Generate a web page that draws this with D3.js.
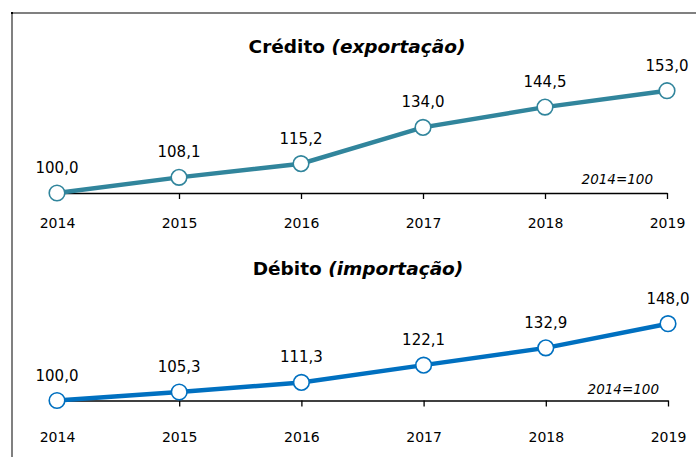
<!DOCTYPE html>
<html>
<head>
<meta charset="utf-8">
<script src="https://cdn.jsdelivr.net/npm/d3@7"></script>
<style>
  body { margin: 0; background: #fff; }
  svg { display: block; font-family: "DejaVu Sans", Verdana, sans-serif; }
</style>
</head>
<body>
<svg id="chart"></svg>
<script>
// board size
var svg_w = 696, svg_h = 457;

// data
var years = ['2014', '2015', '2016', '2017', '2018', '2019'];
var credito = [100.0, 108.1, 115.2, 134.0, 144.5, 153.0];
var debito = [100.0, 105.3, 111.3, 122.1, 132.9, 148.0];
var base_label = '2014=100';

var svg = d3.select('#chart').attr('width', svg_w).attr('height', svg_h);

// frame (left + top grey border)
svg.append('line').attr('x1', 12).attr('x2', 12).attr('y1', 12).attr('y2', svg_h)
  .attr('stroke', '#808080').attr('stroke-width', 2);
svg.append('line').attr('x1', 11).attr('x2', svg_w).attr('y1', 13).attr('y2', 13)
  .attr('stroke', '#808080').attr('stroke-width', 2);
svg.append('rect').attr('x', 11).attr('y', 12).attr('width', 2).attr('height', 2).attr('fill', '#000');

function draw_panel(cfg) {
  var g = svg.append('g');
  var x = d3.scalePoint().domain(years).range([57, cfg.x_end]);
  var y = d3.scaleLinear().domain([100, 160]).range([cfg.base, cfg.base - 60 * cfg.ppu]);

  // title
  var t = g.append('text').attr('x', cfg.title_x).attr('y', cfg.title_y)
    .attr('text-anchor', 'middle').attr('font-size', 18.5).attr('font-weight', 'bold').attr('fill', '#000');
  t.append('tspan').text(cfg.title + ' ');
  t.append('tspan').attr('font-style', 'italic').text(cfg.sub);

  // x axis
  var axis = d3.axisBottom(x).tickSize(6).tickSizeOuter(0).tickPadding(cfg.pad);
  var ag = g.append('g').attr('transform', 'translate(0,' + y(100) + ')').call(axis)
    .attr('font-size', 14).attr('font-family', '"DejaVu Sans", Verdana, sans-serif');
  ag.select('.domain').attr('stroke', '#000').attr('stroke-width', 1.3);
  ag.selectAll('.tick line').attr('stroke', '#000').attr('stroke-width', 1.3);
  ag.selectAll('.tick text').attr('fill', '#000');

  // base label
  g.append('text').attr('x', cfg.base_x).attr('y', cfg.base_y).attr('text-anchor', 'end')
    .attr('font-size', 13.5).attr('font-style', 'italic').attr('fill', '#000').text(base_label);

  // line
  var line = d3.line().x(function(d, i){ return x(years[i]); }).y(function(d){ return y(d); });
  g.append('path').datum(cfg.values).attr('d', line)
    .attr('fill', 'none').attr('stroke', cfg.color).attr('stroke-width', 4.5);

  // markers
  g.selectAll('circle.pt').data(cfg.values).enter().append('circle').attr('class', 'pt')
    .attr('cx', function(d, i){ return x(years[i]); })
    .attr('cy', function(d){ return y(d); })
    .attr('r', 7.8).attr('fill', '#fff').attr('stroke', cfg.color).attr('stroke-width', 1.6);

  // value labels
  g.selectAll('text.val').data(cfg.values).enter().append('text').attr('class', 'val')
    .attr('x', function(d, i){ return x(years[i]); })
    .attr('y', function(d){ return y(d) - 20; })
    .attr('text-anchor', 'middle').attr('font-size', 15).attr('fill', '#000')
    .text(function(d){ return d.toFixed(1).replace('.', ','); });
}

draw_panel({
  values: credito, color: '#31859C', base: 193, ppu: 1.93, x_end: 667, pad: 19,
  title: 'Crédito', sub: '(exportação)', title_x: 357, title_y: 53,
  base_x: 653, base_y: 184
});
draw_panel({
  values: debito, color: '#0070C0', base: 400.5, ppu: 1.6, x_end: 668, pad: 26,
  title: 'Débito', sub: '(importação)', title_x: 358, title_y: 275,
  base_x: 659, base_y: 394
});
</script>
</body>
</html>
